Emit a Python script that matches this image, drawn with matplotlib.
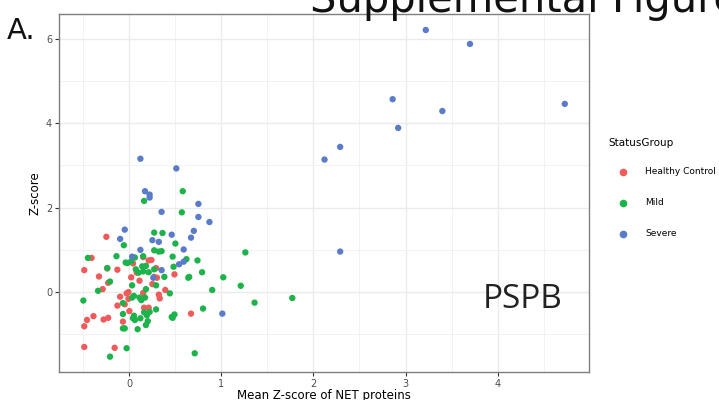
import matplotlib
matplotlib.use("Agg")
import matplotlib.pyplot as plt
from matplotlib.lines import Line2D

# Healthy Control
hc_x = [-0.25, -0.41, -0.49, -0.24, -0.13, -0.33, -0.23, -0.29, 0.04, 0.15,
        0.21, 0.24, 0.29, 0.08, 0.02, 0.30, 0.49, 0.11, 0.25, 0.39,
        -0.01, -0.03, 0.15, 0.32, 0.33, -0.10, -0.01, -0.13, -0.05, 0.16,
        0.21, 0.00, 0.67, -0.39, -0.46, -0.28, -0.23, -0.07, -0.49, -0.49,
        -0.16, 0.27]
hc_y = [1.31, 0.81, 0.52, 0.56, 0.53, 0.37, 0.22, 0.07, 0.68, 0.83,
        0.75, 0.76, 0.57, 0.46, 0.35, 0.34, 0.42, 0.27, 0.19, 0.05,
        0.00, -0.03, -0.02, -0.06, -0.15, -0.11, -0.16, -0.32, -0.29, -0.37,
        -0.37, -0.45, -0.51, -0.57, -0.66, -0.65, -0.61, -0.70, -0.81, -1.30,
        -1.32, 0.36]

# Mild
mild_x = [0.16, 0.58, 0.57, 0.27, 0.36, -0.06, 0.50, 1.26, -0.45, -0.14,
          0.06, 0.15, 0.27, 0.32, 0.35, 0.47, 0.62, 0.74, -0.04, 0.02,
          -0.24, 0.07, 0.14, 0.18, 0.15, 0.10, 0.21, 0.27, 0.48, 0.79,
          0.38, 0.64, 0.65, 1.02, -0.21, 0.03, 0.29, 1.21, 0.18, -0.34,
          0.90, 0.44, 0.05, 0.11, 0.17, 0.03, 0.13, -0.50, 1.77, 1.36,
          -0.07, 0.80, 0.29, -0.07, 0.19, 0.05, 0.49, 0.47, 0.46, 0.04,
          0.12, 0.06, 0.20, 0.18, 0.16, 0.22, -0.07, -0.05, 0.09, -0.03,
          -0.21, 0.71, -0.02]
mild_y = [2.16, 2.39, 1.89, 1.41, 1.40, 1.11, 1.15, 0.94, 0.81, 0.85,
          0.82, 0.85, 0.99, 0.96, 0.97, 0.84, 0.78, 0.75, 0.70, 0.73,
          0.57, 0.54, 0.61, 0.62, 0.49, 0.46, 0.47, 0.54, 0.60, 0.47,
          0.36, 0.34, 0.36, 0.35, 0.25, 0.16, 0.16, 0.15, 0.07, 0.03,
          0.05, -0.03, -0.09, -0.13, -0.13, -0.13, -0.19, -0.20, -0.14, -0.25,
          -0.26, -0.39, -0.41, -0.52, -0.55, -0.56, -0.53, -0.61, -0.59, -0.62,
          -0.62, -0.66, -0.69, -0.78, -0.48, -0.47, -0.86, -0.86, -0.88, -1.33,
          -1.53, -1.45, 0.69]

# Severe
sev_x = [3.22, 3.70, 2.86, 3.40, 2.92, 4.73, 2.12, 2.29, 0.12, 0.51,
         0.17, 0.22, 0.22, 0.35, 0.75, 0.75, 0.87, -0.05, -0.10, 0.46,
         0.70, 0.67, 0.25, 0.32, 0.12, 0.59, 0.03, 0.54, 0.59, 0.35,
         0.26, 1.01, 2.29]
sev_y = [6.21, 5.88, 4.57, 4.29, 3.89, 4.46, 3.14, 3.44, 3.16, 2.93,
         2.39, 2.31, 2.24, 1.90, 2.09, 1.78, 1.66, 1.48, 1.26, 1.36,
         1.45, 1.29, 1.23, 1.19, 1.00, 1.01, 0.84, 0.66, 0.72, 0.52,
         0.34, -0.51, 0.96]

groups = ["Healthy Control", "Mild", "Severe"]
colors = ["#EF5B5B", "#1DB34A", "#5A7BC8"]
xs = [hc_x, mild_x, sev_x]
ys = [hc_y, mild_y, sev_y]

fig = plt.figure(figsize=(7.19, 4.0), dpi=100)
ax = fig.add_axes([0.0821, 0.0693, 0.7367, 0.8958])

for gx, gy, c in zip(xs, ys, colors):
    ax.scatter(gx, gy, s=21, color=c, edgecolors="none", zorder=3)

ax.set_xlim(-0.764, 4.99)
ax.set_ylim(-1.9, 6.59)
ax.set_xticks([0, 1, 2, 3, 4])
ax.set_yticks([0, 2, 4, 6])
ax.set_xticks([-0.5, 0.5, 1.5, 2.5, 3.5, 4.5], minor=True)
ax.set_yticks([-1, 1, 3, 5], minor=True)
ax.grid(which="major", color="#EBEBEB", linewidth=1.0, zorder=0)
ax.grid(which="minor", color="#F2F2F2", linewidth=0.7, zorder=0)
ax.set_axisbelow(True)
for sp in ax.spines.values():
    sp.set_color("#7F7F7F")
    sp.set_linewidth(1.0)
ax.tick_params(which="major", length=3, width=0.8, color="#333333",
               labelsize=7, labelcolor="#4D4D4D", pad=2)
ax.tick_params(which="minor", length=0)

ax.set_ylabel("Z-score", fontsize=8.5, color="black", labelpad=3)
fig.text(0.45, 0.028, "Mean Z-score of NET proteins", fontsize=8.5,
         ha="center", va="top")

# legend
fig.text(608 / 719, 1 - 143 / 400, "StatusGroup", fontsize=7.5, va="center")
leg_y = [171.7, 203, 234]
for lab, c, py in zip(groups, colors, leg_y):
    fig.add_artist(Line2D([623 / 719], [1 - py / 400], marker="o", markersize=4.5,
                          color=c, linestyle="none", transform=fig.transFigure))
    fig.text(645 / 719, 1 - py / 400, lab, fontsize=6.5, va="center")

# overlay texts
fig.text(310 / 719, 1 - 12 / 400, "Supplemental Figure 6", fontsize=30,
         color="#111111", va="baseline", ha="left")
fig.text(7 / 719, 1 - 39 / 400, "A.", fontsize=21, va="baseline", ha="left",
         color="#111111")
fig.text(483 / 719, 1 - 308 / 400, "PSPB", fontsize=24, va="baseline",
         ha="left", color="#222222", family="Open Sans")

fig.savefig("out.png", dpi=100)
